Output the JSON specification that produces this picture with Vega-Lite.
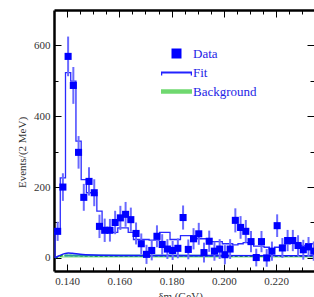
{
  "$schema": "https://vega.github.io/schema/vega-lite/v6.json",
  "width": 260,
  "height": 261,
  "autosize": {"type": "none"},
  "padding": {"left": 54, "top": 10, "right": 0, "bottom": 26},
  "background": "white",
  "config": {
    "view": {"stroke": null},
    "axis": {
      "grid": false, "tickColor": "black", "tickWidth": 1, "domainColor": "black", "domainWidth": 2.5,
      "labelFont": "Liberation Serif", "labelFontSize": 11, "labelColor": "#333333",
      "titleFont": "Liberation Serif", "titleFontSize": 11, "titleFontWeight": "normal", "titleColor": "#333333",
      "labelFlush": false, "labelOverlap": false
    }
  },
  "resolve": {"axis": {"x": "independent", "y": "independent"}},
  "layer": [
    {
      "data": {"values": [
        {"x": 0.1354, "b": 0}, {"x": 0.1365, "b": 3}, {"x": 0.138, "b": 6}, {"x": 0.140, "b": 7},
        {"x": 0.143, "b": 6}, {"x": 0.150, "b": 5}, {"x": 0.2345, "b": 5}
      ]},
      "mark": {"type": "area", "fill": "#bdf0bd", "clip": true},
      "encoding": {
        "x": {"field": "x", "type": "quantitative", "scale": {"domain": [0.135, 0.2345], "nice": false, "zero": false},
          "axis": {"orient": "bottom", "values": [0.14, 0.16, 0.18, 0.2, 0.22], "format": ".3f", "tickSize": -7, "labelPadding": 11,
            "title": "δm (GeV)", "titleX": 126, "titleY": 19, "titleBaseline": "top", "titleAlign": "center"}},
        "y": {"field": "b", "type": "quantitative", "scale": {"domain": [-37, 700], "nice": false, "zero": false},
          "axis": {"orient": "left", "values": [0, 200, 400, 600], "tickSize": -7, "labelPadding": 11,
            "title": "Events/(2 MeV)", "titleX": -32, "titleY": 142, "titleAlign": "center", "titleBaseline": "middle", "titleAngle": -90}},
        "y2": {"datum": 0}
      }
    },
    {
      "data": {"values": [
        {"x": 0.1354, "b": 0}, {"x": 0.1365, "b": 3}, {"x": 0.138, "b": 6}, {"x": 0.140, "b": 7},
        {"x": 0.143, "b": 6}, {"x": 0.150, "b": 5}, {"x": 0.2345, "b": 5}
      ]},
      "mark": {"type": "line", "stroke": "#10b010", "strokeWidth": 1.5, "strokeDash": [3, 2], "clip": true},
      "encoding": {
        "x": {"field": "x", "type": "quantitative", "scale": {"domain": [0.135, 0.2345], "nice": false, "zero": false},
          "axis": {"orient": "bottom", "values": [0.145, 0.15, 0.155, 0.165, 0.17, 0.175, 0.185, 0.19, 0.195, 0.205, 0.21, 0.215, 0.225, 0.23],
            "tickSize": -4, "labels": false, "domain": false, "title": null}},
        "y": {"field": "b", "type": "quantitative", "scale": {"domain": [-37, 700], "nice": false, "zero": false},
          "axis": {"orient": "left", "values": [100, 300, 500], "tickSize": -4, "labels": false, "domain": false, "title": null}}
      }
    },
    {
      "data": {"values": [
        {"x": 0.139, "t": 7}, {"x": 0.150, "t": 7}, {"x": 0.202, "t": 6}
      ]},
      "mark": {"type": "line", "stroke": "#2a9c9c", "strokeWidth": 2, "clip": true},
      "encoding": {
        "x": {"field": "x", "type": "quantitative", "scale": {"domain": [0.135, 0.2345], "nice": false, "zero": false},
          "axis": {"orient": "top", "values": [0.14, 0.16, 0.18, 0.2, 0.22], "tickSize": -7, "labels": false, "title": null}},
        "y": {"field": "t", "type": "quantitative", "scale": {"domain": [-37, 700], "nice": false, "zero": false},
          "axis": {"orient": "right", "values": [0, 200, 400, 600], "tickSize": -7, "labels": false, "domain": false, "title": null}}
      }
    },
    {
      "data": {"values": [
        {"x": 0.1354, "v": 0}, {"x": 0.137, "v": 6}, {"x": 0.139, "v": 12}, {"x": 0.1405, "v": 14},
        {"x": 0.142, "v": 13}, {"x": 0.145, "v": 10}, {"x": 0.150, "v": 8}, {"x": 0.160, "v": 7}, {"x": 0.2345, "v": 6}
      ]},
      "mark": {"type": "line", "stroke": "#1a1aff", "strokeWidth": 1.5, "interpolate": "monotone", "clip": true},
      "encoding": {
        "x": {"field": "x", "type": "quantitative", "scale": {"domain": [0.135, 0.2345], "nice": false, "zero": false},
          "axis": {"orient": "top", "values": [0.145, 0.15, 0.155, 0.165, 0.17, 0.175, 0.185, 0.19, 0.195, 0.205, 0.21, 0.215, 0.225, 0.23],
            "tickSize": -4, "labels": false, "domain": false, "title": null}},
        "y": {"field": "v", "type": "quantitative", "scale": {"domain": [-37, 700], "nice": false, "zero": false},
          "axis": {"orient": "right", "values": [100, 300, 500], "tickSize": -4, "labels": false, "domain": false, "title": null}}
      }
    },
    {
      "data": {"values": [
        {"i": 0, "x": 0.1354, "f": 0}, {"i": 1, "x": 0.1354, "f": 71}, {"i": 2, "x": 0.1374, "f": 226}, {"i": 3, "x": 0.1394, "f": 523},
        {"i": 4, "x": 0.1414, "f": 499}, {"i": 5, "x": 0.1434, "f": 330}, {"i": 6, "x": 0.1454, "f": 221}, {"i": 7, "x": 0.1474, "f": 184},
        {"i": 8, "x": 0.1494, "f": 184}, {"i": 9, "x": 0.1514, "f": 132}, {"i": 10, "x": 0.1534, "f": 80}, {"i": 11, "x": 0.1554, "f": 80},
        {"i": 12, "x": 0.1574, "f": 72}, {"i": 13, "x": 0.1594, "f": 85}, {"i": 14, "x": 0.1614, "f": 85}, {"i": 15, "x": 0.1634, "f": 72},
        {"i": 16, "x": 0.1654, "f": 52}, {"i": 17, "x": 0.1674, "f": 52}, {"i": 18, "x": 0.1694, "f": 52}, {"i": 19, "x": 0.1714, "f": 50},
        {"i": 20, "x": 0.1734, "f": 50}, {"i": 21, "x": 0.1754, "f": 72}, {"i": 22, "x": 0.1774, "f": 72}, {"i": 23, "x": 0.1794, "f": 52},
        {"i": 24, "x": 0.1814, "f": 52}, {"i": 25, "x": 0.1834, "f": 63}, {"i": 26, "x": 0.1854, "f": 63}, {"i": 27, "x": 0.1874, "f": 63},
        {"i": 28, "x": 0.1894, "f": 54}, {"i": 29, "x": 0.1914, "f": 54}, {"i": 30, "x": 0.1934, "f": 46}, {"i": 31, "x": 0.1954, "f": 46},
        {"i": 32, "x": 0.1974, "f": 46}, {"i": 33, "x": 0.1994, "f": 40}, {"i": 34, "x": 0.2014, "f": 40}, {"i": 35, "x": 0.2034, "f": 37},
        {"i": 36, "x": 0.2054, "f": 40}, {"i": 37, "x": 0.2074, "f": 43}, {"i": 38, "x": 0.2094, "f": 40}, {"i": 39, "x": 0.2114, "f": 33},
        {"i": 40, "x": 0.2134, "f": 33}, {"i": 41, "x": 0.2154, "f": 30}, {"i": 42, "x": 0.2174, "f": 25}, {"i": 43, "x": 0.2194, "f": 30},
        {"i": 44, "x": 0.2214, "f": 35}, {"i": 45, "x": 0.2234, "f": 40}, {"i": 46, "x": 0.2254, "f": 43}, {"i": 47, "x": 0.2274, "f": 40},
        {"i": 48, "x": 0.2294, "f": 35}, {"i": 49, "x": 0.2314, "f": 40}, {"i": 50, "x": 0.2334, "f": 40}, {"i": 51, "x": 0.2354, "f": 40}
      ]},
      "mark": {"type": "line", "stroke": "#2a2aff", "strokeWidth": 1.3, "interpolate": "step-after", "clip": true},
      "encoding": {
        "x": {"field": "x", "type": "quantitative", "scale": {"domain": [0.135, 0.2345], "nice": false, "zero": false}, "axis": null},
        "y": {"field": "f", "type": "quantitative", "scale": {"domain": [-37, 700], "nice": false, "zero": false}, "axis": null},
        "order": {"field": "i", "type": "quantitative"}
      }
    },
    {
      "data": {"name": "pts"},
      "mark": {"type": "rule", "stroke": "#6a6aff", "strokeWidth": 2, "clip": true},
      "encoding": {
        "x": {"field": "x", "type": "quantitative", "scale": {"domain": [0.135, 0.2345], "nice": false, "zero": false}, "axis": null},
        "y": {"field": "lo", "type": "quantitative", "scale": {"domain": [-37, 700], "nice": false, "zero": false}, "axis": null},
        "y2": {"field": "hi"}
      }
    },
    {
      "data": {"name": "pts"},
      "mark": {"type": "point", "size": 50, "opacity": 1, "filled": true, "clip": true},
      "encoding": {
        "x": {"field": "x", "type": "quantitative", "scale": {"domain": [0.135, 0.2345], "nice": false, "zero": false}, "axis": null},
        "y": {"field": "y", "type": "quantitative", "scale": {"domain": [-37, 700], "nice": false, "zero": false}, "axis": null},
        "color": {"field": "s", "type": "nominal",
          "scale": {"domain": ["Data", "Fit", "Background"], "range": ["#0000ff", "#2222ff", "#6fd86f"]},
          "legend": {"orient": "none", "legendX": 116, "legendY": 37, "title": null, "padding": 0,
            "labelFont": "Liberation Serif", "labelFontSize": 13, "labelColor": "#2424e6", "labelOffset": 10, "rowPadding": 5}
        },
        "shape": {"field": "s", "type": "nominal",
          "scale": {"domain": ["Data", "Fit", "Background"],
            "range": ["square", "M-3.1,-0.18H3.1V0.6H2.85V0.18H-2.85V0.6H-3.1Z", "M-3.1,-0.45H3.1V0.45H-3.1Z"]},
          "legend": {"orient": "none", "legendX": 116, "legendY": 37, "title": null, "padding": 0,
            "labelFont": "Liberation Serif", "labelFontSize": 13, "labelColor": "#2424e6", "labelOffset": 10, "rowPadding": 5}
        }
      }
    }
  ],
  "datasets": {
    "pts": [
      {"x": 0.1364, "y": 75, "lo": 48, "hi": 102, "s": "Data"},
      {"x": 0.1384, "y": 200, "lo": 161, "hi": 239, "s": "Data"},
      {"x": 0.1404, "y": 569, "lo": 513, "hi": 625, "s": "Data"},
      {"x": 0.1424, "y": 487, "lo": 435, "hi": 539, "s": "Data"},
      {"x": 0.1444, "y": 298, "lo": 252, "hi": 344, "s": "Data"},
      {"x": 0.1464, "y": 171, "lo": 133, "hi": 209, "s": "Data"},
      {"x": 0.1484, "y": 216, "lo": 176, "hi": 256, "s": "Data"},
      {"x": 0.1504, "y": 184, "lo": 146, "hi": 222, "s": "Data"},
      {"x": 0.1524, "y": 89, "lo": 56, "hi": 122, "s": "Data"},
      {"x": 0.1544, "y": 78, "lo": 45, "hi": 111, "s": "Data"},
      {"x": 0.1564, "y": 78, "lo": 46, "hi": 110, "s": "Data"},
      {"x": 0.1584, "y": 100, "lo": 67, "hi": 133, "s": "Data"},
      {"x": 0.1604, "y": 113, "lo": 79, "hi": 147, "s": "Data"},
      {"x": 0.1624, "y": 123, "lo": 88, "hi": 158, "s": "Data"},
      {"x": 0.1644, "y": 108, "lo": 74, "hi": 142, "s": "Data"},
      {"x": 0.1664, "y": 69, "lo": 38, "hi": 100, "s": "Data"},
      {"x": 0.1684, "y": 40, "lo": 11, "hi": 69, "s": "Data"},
      {"x": 0.1704, "y": 10, "lo": -17, "hi": 37, "s": "Data"},
      {"x": 0.1724, "y": 21, "lo": -7, "hi": 49, "s": "Data"},
      {"x": 0.1744, "y": 61, "lo": 30, "hi": 92, "s": "Data"},
      {"x": 0.1764, "y": 38, "lo": 9, "hi": 67, "s": "Data"},
      {"x": 0.1784, "y": 25, "lo": -3, "hi": 53, "s": "Data"},
      {"x": 0.1804, "y": 21, "lo": -6, "hi": 48, "s": "Data"},
      {"x": 0.1824, "y": 27, "lo": -1, "hi": 55, "s": "Data"},
      {"x": 0.1844, "y": 114, "lo": 80, "hi": 148, "s": "Data"},
      {"x": 0.1864, "y": 24, "lo": -4, "hi": 52, "s": "Data"},
      {"x": 0.1884, "y": 54, "lo": 24, "hi": 84, "s": "Data"},
      {"x": 0.1904, "y": 68, "lo": 37, "hi": 99, "s": "Data"},
      {"x": 0.1924, "y": 15, "lo": -13, "hi": 43, "s": "Data"},
      {"x": 0.1944, "y": 47, "lo": 17, "hi": 77, "s": "Data"},
      {"x": 0.1964, "y": 19, "lo": -8, "hi": 46, "s": "Data"},
      {"x": 0.1984, "y": 25, "lo": -3, "hi": 53, "s": "Data"},
      {"x": 0.2004, "y": 9, "lo": -18, "hi": 36, "s": "Data"},
      {"x": 0.2024, "y": 25, "lo": -3, "hi": 53, "s": "Data"},
      {"x": 0.2044, "y": 106, "lo": 72, "hi": 140, "s": "Data"},
      {"x": 0.2064, "y": 86, "lo": 54, "hi": 118, "s": "Data"},
      {"x": 0.2084, "y": 75, "lo": 43, "hi": 107, "s": "Data"},
      {"x": 0.2104, "y": 46, "lo": 16, "hi": 76, "s": "Data"},
      {"x": 0.2124, "y": 1, "lo": -24, "hi": 26, "s": "Data"},
      {"x": 0.2144, "y": 46, "lo": 16, "hi": 76, "s": "Data"},
      {"x": 0.2164, "y": 0, "lo": -25, "hi": 25, "s": "Data"},
      {"x": 0.2184, "y": 19, "lo": -8, "hi": 46, "s": "Data"},
      {"x": 0.2204, "y": 91, "lo": 59, "hi": 123, "s": "Data"},
      {"x": 0.2224, "y": 28, "lo": 0, "hi": 56, "s": "Data"},
      {"x": 0.2244, "y": 49, "lo": 19, "hi": 79, "s": "Data"},
      {"x": 0.2264, "y": 49, "lo": 19, "hi": 79, "s": "Data"},
      {"x": 0.2284, "y": 35, "lo": 6, "hi": 64, "s": "Data"},
      {"x": 0.2304, "y": 23, "lo": -5, "hi": 51, "s": "Data"},
      {"x": 0.2324, "y": 31, "lo": 3, "hi": 59, "s": "Data"},
      {"x": 0.2344, "y": 19, "lo": -8, "hi": 46, "s": "Data"}
    ]
  }
}
